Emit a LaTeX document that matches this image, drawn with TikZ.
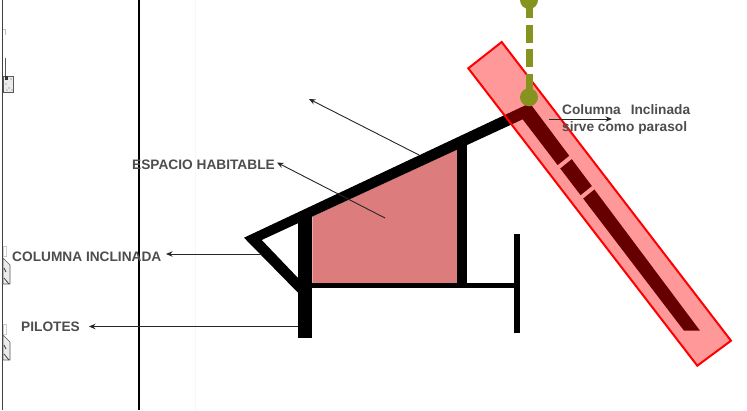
\documentclass[tikz,border=0pt]{standalone}
\usepackage{fontspec}
\setmainfont{Liberation Sans}
\usetikzlibrary{arrows.meta}
\definecolor{roomfill}{HTML}{DC7C7C}
\definecolor{olivepin}{HTML}{86931F}
\definecolor{labelgray}{HTML}{4D4D4D}
\tikzset{
  labeltext/.style={font=\bfseries\fontsize{13.7}{15}\selectfont,text=labelgray,inner sep=0pt},
  noteline/.style={draw=#1,line width=0.9pt,-{Stealth[length=6.5pt,width=5.5pt]}},
  noteline/.default=black!85,
  scrap/.style={draw=black!65,line width=0.6pt,fill=black!8}
}
\begin{document}
\begin{tikzpicture}[x=1pt,y=-1pt]
\useasboundingbox (0,0) rectangle (747,410);
% background sheet lines
\draw[black!75,line width=1.5pt] (2.3,0) -- (2.3,410);
\draw[black,line width=1.6pt] (139,0) -- (139,410);
\draw[black!3,line width=0.6pt] (195,0) -- (195,410);
% scraps at left edge
\draw[black!25,line width=0.5pt] (3,29) -- (5,29) (5,29) -- (5,35);
\draw[black!65,line width=1pt] (5,58) -- (5,78);
\filldraw[scrap] (3,76) -- (13,76) -- (13,92) -- (3,92) -- cycle;
\fill[black!80] (5,76) rectangle (8,80);
\foreach \p in {(6,84),(9,88),(11,79),(12,90),(7,90)} \fill[black!60] \p circle (0.6);
\draw[black!20,line width=0.5pt] (3,246) rectangle (6,256);
\filldraw[scrap] (3,258) -- (10,265) -- (10,284) -- (3,284) -- cycle;
\draw[black!80,line width=0.7pt] (4,278) -- (9,284) (4,268) -- (6,272);
\draw[black!20,line width=0.5pt] (3,324) rectangle (6,334);
\filldraw[scrap] (3,335) -- (10,342) -- (10,360) -- (3,360) -- cycle;
\draw[black!80,line width=0.7pt] (4,354) -- (9,360) (4,345) -- (6,349);
% room
\fill[roomfill] (312.3,216.7) -- (457.3,149.3) -- (457.3,283.5) -- (312.3,283.5) -- cycle;
% roof, brace and inclined column
\fill[black] (244,237.7) -- (526,105) -- (532,106) -- (700,330.7) -- (684,330.7)
  -- (522.7,119.3) -- (261.7,240) -- (298.3,278.3) -- (298.3,293) -- cycle;
% wall, floor, pilotis, end post
\fill[black] (457.3,142) rectangle (467.3,287.7);
\fill[black] (298.3,212) rectangle (312.3,338);
\fill[black] (305,283.3) rectangle (516,287.7);
\fill[black] (514,234) rectangle (520,333);
% gaps in the column
\draw[white,line width=4pt] (555,170) -- (576,153);
\draw[white,line width=4pt] (578,200) -- (599,183);
% parasol panel
\filldraw[draw=red,line width=2pt,fill=red,fill opacity=0.4,line join=miter]
  (501.7,42) -- (731,340.7) -- (697.3,365.7) -- (468.3,68.3) -- cycle;
% pin
\coordinate (pinTop) at (529,0);
\coordinate (pinBase) at (529,97.3);
\draw[olivepin,line width=7pt,dash pattern=on 18pt off 6.5pt] (pinTop) -- (pinBase);
\fill[olivepin] (pinTop) circle (9);
\fill[olivepin] (pinBase) circle (9);
% labels
\node[labeltext,anchor=west] (espacio) at (132,164.5) {ESPACIO HABITABLE};
\node[labeltext,anchor=west] (columna) at (12,257) {COLUMNA INCLINADA};
\node[labeltext,anchor=west] (pilotes) at (21,326.5) {PILOTES};
\node[labeltext,anchor=west,font=\bfseries\fontsize{13.7}{17}\selectfont,align=left] (parasol) at (562,119.5)
  {Columna\hspace{0.45em} Inclinada\\sirve como parasol};
% connectors
\coordinate (roofA) at (419,155);
\coordinate (roofB) at (309,99);
\coordinate (roomA) at (385,218);
\coordinate (colA) at (262,254);
\coordinate (colB) at (166,254);
\coordinate (pilA) at (298.3,326.5);
\coordinate (pilB) at (89,326.5);
\coordinate (paraA) at (549,119);
\coordinate (paraB) at (612,119);
\draw[noteline] (roofA) -- (roofB);
\draw[noteline] (roomA) -- ([shift={(2,-2)}]espacio.east);
\draw[noteline] (colA) -- (colB);
\draw[noteline] (pilA) -- (pilB);
\draw[noteline] (paraA) -- (paraB);
\end{tikzpicture}
\end{document}
